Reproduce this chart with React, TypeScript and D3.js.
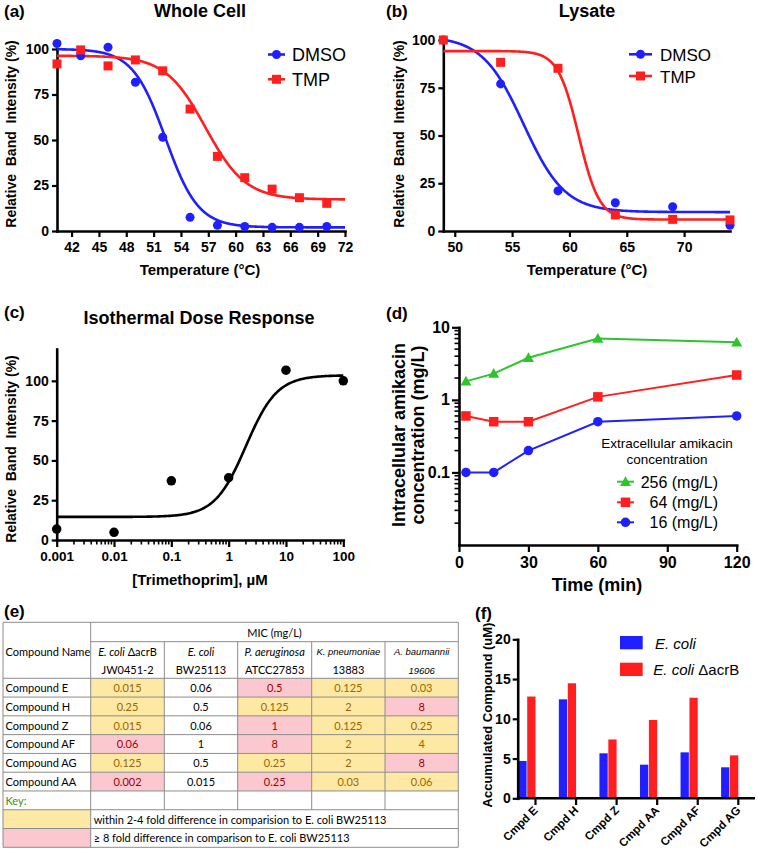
import React, { useEffect, useRef } from "react";
import * as d3 from "d3";

const FONT = "'Liberation Sans', Arial, sans-serif";
const TFONT = "Lato, 'Liberation Sans', sans-serif";
const BLUE = "#1f1fff";
const RED = "#ff1f1f";
const GREEN = "#2cc52c";

// ---------- Panel (a) Whole Cell ----------
const tempsA = [40.4, 43, 46, 49, 52, 55, 58, 61, 64, 67, 70];
const dmsoA = [103, 96.3, 101, 81.7, 51.5, 7.5, 3.1, 2.5, 2, 2, 2.5];
const tmpA = [91.8, 99.5, 90.7, 94, 88, 67, 41, 29.3, 23, 18.3, 15.2];
const xTicksA = [42, 45, 48, 51, 54, 57, 60, 63, 66, 69, 72];
// Boltzmann fit params: [top, bottom, V50, slope]
const fitDmsoA = [100, 2, 52.3, 1.8];
const fitTmpA = [96.3, 17.3, 56.7, 2.2];

// ---------- Panel (b) Lysate ----------
const tempsB = [49, 54, 59, 64, 69, 74];
const dmsoB = [100, 77, 21, 14.8, 12.7, 3];
const tmpB = [100, 88.3, 85.2, 8.4, 6.1, 5.8];
const xTicksB = [50, 55, 60, 65, 70];
const fitDmsoB = [102, 9.9, 56, 1.8];
const fitTmpB = [94.2, 6, 60.8, 0.9];

const yTicksPct = [0, 25, 50, 75, 100];

// ---------- Panel (c) Isothermal dose response ----------
const dosesC = [0.001, 0.01, 0.1, 1, 10, 100];
const respC = [6.9, 4.8, 37.2, 39.1, 106.7, 100];
const xTickLabelsC = ["0.001", "0.01", "0.1", "1", "10", "100"];
// [bottom, top, EC50, hill]
const fitC = [14.5, 103.5, 2.0, 1.6];

// ---------- Panel (d) amikacin ----------
const timesD = [3, 15, 30, 60, 120];
const amk256 = [1.8, 2.3, 3.8, 7.0, 6.2];
const amk64 = [0.6, 0.5, 0.5, 1.1, 2.2];
const amk16 = [0.1, 0.1, 0.2, 0.5, 0.6];
const xTicksD = [0, 30, 60, 90, 120];
const yTicksD = [0.1, 1, 10];
const yTickLabelsD = ["0.1", "1", "10"];
const legendD = ["256 (mg/L)", "64 (mg/L)", "16 (mg/L)"];

// ---------- Panel (e) table ----------
const compoundNames = ["Compound E", "Compound H", "Compound Z", "Compound AF", "Compound AG", "Compound AA"];
const micAcrB = ["0.015", "0.25", "0.015", "0.06", "0.125", "0.002"];
const micBW = ["0.06", "0.5", "0.06", "1", "0.5", "0.015"];
const micPaer = ["0.5", "0.125", "1", "8", "0.25", "0.25"];
const micKpn = ["0.125", "2", "0.125", "2", "2", "0.03"];
const micAbau = ["0.03", "8", "0.25", "4", "8", "0.06"];
const flagAcrB = ["Y", "Y", "Y", "P", "Y", "P"];
const flagBW = ["", "", "", "", "", ""];
const flagPaer = ["P", "Y", "P", "P", "Y", "P"];
const flagKpn = ["Y", "Y", "Y", "Y", "Y", "Y"];
const flagAbau = ["Y", "P", "Y", "Y", "P", "Y"];
const strainLine2 = ["JW0451-2", "BW25113", "ATCC27853", "13883", "19606"];
const keyTexts = [
  "within 2-4 fold difference in comparision to E. coli BW25113",
  "≥ 8 fold difference in comparison to E. coli BW25113",
];

// ---------- Panel (f) accumulation ----------
const compoundsF = ["Cmpd E", "Cmpd H", "Cmpd Z", "Cmpd AA", "Cmpd AF", "Cmpd AG"];
const accEcoli = [4.7, 12.45, 5.66, 4.23, 5.78, 3.9];
const accAcrB = [12.8, 14.47, 7.4, 9.85, 12.65, 5.4];
const yTicksF = [0, 5, 10, 15, 20];

type Sel = d3.Selection<any, any, any, any>;

function txt(g: Sel, x: number, y: number, s: string, size: number, o: any = {}) {
  return g
    .append("text")
    .attr("x", x)
    .attr("y", y)
    .attr("font-family", o.family ?? FONT)
    .attr("font-size", size)
    .attr("font-weight", o.weight ?? "bold")
    .attr("font-style", o.style ?? "normal")
    .attr("text-anchor", o.anchor ?? "start")
    .attr("fill", o.fill ?? "#000")
    .style("white-space", "pre")
    .text(s);
}

function rtxt(g: Sel, x: number, y: number, s: string, size: number, o: any = {}) {
  return g
    .append("text")
    .attr("transform", `translate(${x},${y}) rotate(-90)`)
    .attr("font-family", FONT)
    .attr("font-size", size)
    .attr("font-weight", o.weight ?? "bold")
    .attr("text-anchor", "middle")
    .attr("fill", "#000")
    .style("white-space", "pre")
    .text(s);
}

function styleAxis(g: Sel, size: number) {
  g.attr("font-family", null).attr("font-size", null);
  g.select(".domain").attr("stroke", "#000").attr("stroke-width", 2.6).attr("stroke-linecap", "square");
  g.selectAll(".tick line").attr("stroke", "#000").attr("stroke-width", 2.2);
  g.selectAll(".tick text")
    .attr("font-family", FONT)
    .attr("font-weight", "bold")
    .attr("font-size", size)
    .attr("fill", "#000");
}

function marker(g: Sel, kind: string, cx: number, cy: number, color: string, s: number) {
  if (kind === "circle") g.append("circle").attr("cx", cx).attr("cy", cy).attr("r", s / 2).attr("fill", color);
  else if (kind === "square")
    g.append("rect").attr("x", cx - s / 2).attr("y", cy - s / 2).attr("width", s).attr("height", s).attr("fill", color);
  else
    g.append("path")
      .attr("d", `M${cx},${cy - s * 0.55}L${cx + s * 0.55},${cy + s * 0.42}L${cx - s * 0.55},${cy + s * 0.42}Z`)
      .attr("fill", color);
}

function boltz(p: number[], t: number) {
  return p[1] + (p[0] - p[1]) / (1 + Math.exp((t - p[2]) / p[3]));
}

function tempPanel(svg: Sel, c: any) {
  const g = svg.append("g");
  const x = d3.scaleLinear().domain(c.xDomain).range(c.xRange);
  const y = d3.scaleLinear().domain([0, 100]).range(c.yRange);
  const xa = g
    .append("g")
    .attr("transform", `translate(0,${c.yRange[0]})`)
    .call(d3.axisBottom(x).tickValues(c.xTicks).tickSize(6).tickPadding(5).tickSizeOuter(0).tickFormat(d3.format("d")));
  styleAxis(xa, c.tickSize);
  const ya = g
    .append("g")
    .attr("transform", `translate(${c.xRange[0]},0)`)
    .call(d3.axisLeft(y).tickValues(yTicksPct).tickSize(5).tickPadding(3).tickSizeOuter(0));
  styleAxis(ya, c.tickSize);

  const series = [
    { fit: c.fitD, vals: c.dmso, color: BLUE, kind: "circle", size: 9 },
    { fit: c.fitT, vals: c.tmp, color: RED, kind: "square", size: 9 },
  ];
  series.forEach((s) => {
    const ts = d3.range(c.xDomain[0], c.xDomain[1] + 0.001, 0.05);
    const ln = d3
      .line<number>()
      .x((t) => x(t))
      .y((t) => y(boltz(s.fit, t)));
    g.append("path").attr("d", ln(ts)).attr("fill", "none").attr("stroke", s.color).attr("stroke-width", 2.6);
  });
  series.forEach((s) => {
    c.temps.forEach((t: number, i: number) => marker(g, s.kind, x(t), y(s.vals[i]), s.color, s.size));
  });
  // titles
  txt(g, c.labelX, 17, c.label, 17);
  txt(g, c.titleX, 17, c.title, 18, { anchor: "middle" });
  txt(g, c.titleX, 275, "Temperature (°C)", 15, { anchor: "middle" });
  rtxt(g, c.yTitleX, 134, "Relative  Band  Intensity (%)", 14);
  // legend
  const names = ["DMSO", "TMP"];
  series.forEach((s, i) => {
    const ly = c.legY[i];
    g.append("line")
      .attr("x1", c.legX[0])
      .attr("x2", c.legX[1])
      .attr("y1", ly)
      .attr("y2", ly)
      .attr("stroke", s.color)
      .attr("stroke-width", 2.6);
    marker(g, s.kind, (c.legX[0] + c.legX[1]) / 2, ly, s.color, 9);
    txt(g, c.legX[2], ly + 6.5, names[i], c.legSize, { weight: "normal" });
  });
}

function panelC(svg: Sel) {
  const g = svg.append("g");
  const x = d3.scaleLog().domain([0.001, 100]).range([56.7, 343.3]);
  const y = d3.scaleLinear().domain([0, 120]).range([540, 349]);
  const xa = g
    .append("g")
    .attr("transform", `translate(0,540)`)
    .call(
      d3
        .axisBottom(x)
        .tickValues(dosesC)
        .tickSize(7)
        .tickPadding(4)
        .tickSizeOuter(0)
        .tickFormat((d, i) => xTickLabelsC[i])
    );
  styleAxis(xa, 13.5);
  [0.001, 0.01, 0.1, 1, 10].forEach((dec) => {
    for (let k = 2; k <= 9; k++) {
      g.append("line")
        .attr("x1", x(dec * k))
        .attr("x2", x(dec * k))
        .attr("y1", 540)
        .attr("y2", 544.5)
        .attr("stroke", "#000")
        .attr("stroke-width", 1.6);
    }
  });
  const ya = g
    .append("g")
    .attr("transform", `translate(56.7,0)`)
    .call(d3.axisLeft(y).tickValues(yTicksPct).tickSize(5).tickPadding(3).tickSizeOuter(0));
  styleAxis(ya, 14);
  const ds = d3.range(-3, 2.001, 0.02).map((e) => Math.pow(10, e));
  const ln = d3
    .line<number>()
    .x((d) => x(d))
    .y((d) => y(fitC[0] + (fitC[1] - fitC[0]) / (1 + Math.pow(10, (Math.log10(fitC[2]) - Math.log10(d)) * fitC[3]))));
  g.append("path").attr("d", ln(ds)).attr("fill", "none").attr("stroke", "#000").attr("stroke-width", 2.6);
  dosesC.forEach((d, i) => marker(g, "circle", x(d), y(respC[i]), "#000", 9.5));
  txt(g, 4, 318, "(c)", 17);
  txt(g, 199, 324, "Isothermal Dose Response", 18, { anchor: "middle" });
  txt(g, 200, 585, "[Trimethoprim], µM", 15, { anchor: "middle" });
  rtxt(g, 16, 449, "Relative  Band  Intensity (%)", 14);
}

function panelD(svg: Sel) {
  const g = svg.append("g");
  const x = d3.scaleLinear().domain([0, 120]).range([459, 736.7]);
  const y = d3.scaleLog().domain([0.01, 10]).range([545, 327.3]);
  const xa = g
    .append("g")
    .attr("transform", `translate(0,545)`)
    .call(d3.axisBottom(x).tickValues(xTicksD).tickSize(7).tickPadding(5).tickSizeOuter(0).tickFormat(d3.format("d")));
  styleAxis(xa, 16);
  const ya = g
    .append("g")
    .attr("transform", `translate(459,0)`)
    .call(
      d3
        .axisLeft(y)
        .tickValues(yTicksD)
        .tickSize(7)
        .tickPadding(2)
        .tickSizeOuter(0)
        .tickFormat((d, i) => yTickLabelsD[i])
    );
  styleAxis(ya, 16);
  [0.01, 0.1, 1].forEach((dec) => {
    for (let k = 2; k <= 9; k++) {
      g.append("line")
        .attr("x1", 459)
        .attr("x2", 454.5)
        .attr("y1", y(dec * k))
        .attr("y2", y(dec * k))
        .attr("stroke", "#000")
        .attr("stroke-width", 1.6);
    }
  });
  const series = [
    { vals: amk256, color: GREEN, kind: "tri" },
    { vals: amk64, color: RED, kind: "square" },
    { vals: amk16, color: BLUE, kind: "circle" },
  ];
  const ln = d3
    .line<number>()
    .x((d, i) => x(timesD[i]))
    .y((d) => y(d));
  series.forEach((s) => {
    g.append("path").attr("d", ln(s.vals)).attr("fill", "none").attr("stroke", s.color).attr("stroke-width", 2);
    s.vals.forEach((v, i) => marker(g, s.kind, x(timesD[i]), y(v), s.color, s.kind === "tri" ? 10 : 9.5));
  });
  txt(g, 386, 319, "(d)", 17);
  txt(g, 597, 591, "Time (min)", 18, { anchor: "middle" });
  rtxt(g, 405, 435, "Intracellular amikacin", 18);
  rtxt(g, 424, 435, "concentration (mg/L)", 18);
  txt(g, 667, 448, "Extracellular amikacin", 13.5, { anchor: "middle", weight: "normal" });
  txt(g, 667, 464, "concentration", 13.5, { anchor: "middle", weight: "normal" });
  const legY = [481.7, 502.3, 522.3];
  series.forEach((s, i) => {
    g.append("line")
      .attr("x1", 617)
      .attr("x2", 634)
      .attr("y1", legY[i])
      .attr("y2", legY[i])
      .attr("stroke", s.color)
      .attr("stroke-width", 2);
    marker(g, s.kind, 625.5, legY[i], s.color, s.kind === "tri" ? 10 : 9.5);
    txt(g, 718, legY[i] + 6, legendD[i], 16, { anchor: "end", weight: "normal" });
  });
}

function panelE(svg: Sel) {
  const g = svg.append("g");
  txt(g, 4, 617, "(e)", 17);
  const colX = [3, 90.7, 164.3, 237.7, 311.7, 385, 458.3];
  const top = 622.3;
  const h1 = 641.7;
  const rows = d3.scaleBand<number>().domain(d3.range(9)).range([678.3, 847.3]);
  const rh = rows.bandwidth();
  const FILL: any = { Y: "#fde9a3", P: "#fcc8cf", "": "#ffffff" };
  const TXT: any = { Y: "#9c6500", P: "#9c0006", "": "#000000" };
  const mics = [micAcrB, micBW, micPaer, micKpn, micAbau];
  const flags = [flagAcrB, flagBW, flagPaer, flagKpn, flagAbau];
  g.append("rect").attr("x", colX[0]).attr("y", top).attr("width", colX[6] - colX[0]).attr("height", 847.3 - top).attr("fill", "#fff");
  compoundNames.forEach((name, r) => {
    flags.forEach((fl, c) => {
      g.append("rect")
        .attr("x", colX[c + 1])
        .attr("y", rows(r)!)
        .attr("width", colX[c + 2] - colX[c + 1])
        .attr("height", rh)
        .attr("fill", FILL[fl[r]]);
    });
  });
  g.append("rect").attr("x", colX[0]).attr("y", rows(7)!).attr("width", colX[1] - colX[0]).attr("height", rh).attr("fill", FILL.Y);
  g.append("rect").attr("x", colX[0]).attr("y", rows(8)!).attr("width", colX[1] - colX[0]).attr("height", rh).attr("fill", FILL.P);

  const stroke = "#8c8c8c";
  const hl = (x1: number, x2: number, yy: number) =>
    g.append("line").attr("x1", x1).attr("x2", x2).attr("y1", yy).attr("y2", yy).attr("stroke", stroke).attr("stroke-width", 1);
  const vl = (xx: number, y1: number, y2: number) =>
    g.append("line").attr("x1", xx).attr("x2", xx).attr("y1", y1).attr("y2", y2).attr("stroke", stroke).attr("stroke-width", 1);
  hl(colX[0], colX[6], top);
  hl(colX[1], colX[6], h1);
  for (let r = 0; r <= 9; r++) hl(colX[0], colX[6], r === 9 ? 847.3 : rows(r)!);
  vl(colX[0], top, 847.3);
  vl(colX[1], top, 847.3);
  vl(colX[6], top, 847.3);
  for (let c = 2; c <= 5; c++) vl(colX[c], h1, rows(7)!);

  const T = (x: number, y: number, s: string, o: any = {}) =>
    txt(g, x, y, s, o.size ?? 11, { family: o.family ?? TFONT, weight: "normal", anchor: o.anchor ?? "start", fill: o.fill, style: o.style });
  T(5.5, 656, "Compound Name");
  T((colX[1] + colX[6]) / 2, 636.5, "MIC (mg/L)", { anchor: "middle" });
  const cx = (c: number) => (colX[c + 1] + colX[c + 2]) / 2;
  // species line 1
  const t0 = T(cx(0), 656, "", { anchor: "middle" });
  t0.append("tspan").attr("font-style", "italic").text("E. coli");
  t0.append("tspan").text(" ΔacrB");
  T(cx(1), 656, "E. coli", { anchor: "middle", style: "italic" });
  T(cx(2), 656, "P. aeruginosa", { anchor: "middle", style: "italic" });
  T(cx(3), 655, "K. pneumoniae", { anchor: "middle", style: "italic", size: 9.5, family: FONT });
  T(cx(4), 655, "A. baumannii", { anchor: "middle", style: "italic", size: 9.5, family: FONT });
  strainLine2.forEach((s, c) => {
    if (c === 4) T(cx(c), 673.5, s, { anchor: "middle", style: "italic", size: 9.5, family: FONT });
    else T(cx(c), 673.5, s, { anchor: "middle" });
  });
  compoundNames.forEach((name, r) => {
    const by = rows(r)! + 13.8;
    T(5.5, by, name);
    mics.forEach((m, c) => T(cx(c), by, m[r], { anchor: "middle", fill: TXT[flags[c][r]] }));
  });
  T(5.5, rows(6)! + 13.8, "Key:", { fill: "#3f8a2f" });
  T(colX[1] + 3, rows(7)! + 13.8, keyTexts[0]);
  T(colX[1] + 3, rows(8)! + 13.8, keyTexts[1]);
}

function panelF(svg: Sel) {
  const g = svg.append("g");
  const y = d3.scaleLinear().domain([0, 20]).range([798.3, 639.3]);
  const xp = d3.scalePoint<string>().domain(compoundsF).range([535.5, 738.3]);
  const inner = d3.scaleBand<string>().domain(["ecoli", "acrB"]).range([-17.2, 0]).paddingInner(0.07);
  compoundsF.forEach((c, i) => {
    [
      ["ecoli", accEcoli[i], BLUE],
      ["acrB", accAcrB[i], RED],
    ].forEach(([k, v, col]: any) => {
      g.append("rect")
        .attr("x", xp(c)! + inner(k)!)
        .attr("y", y(v))
        .attr("width", inner.bandwidth())
        .attr("height", y(0) - y(v))
        .attr("fill", col);
    });
  });
  const ya = g
    .append("g")
    .attr("transform", `translate(517.7,0)`)
    .call(d3.axisLeft(y).tickValues(yTicksF).tickSize(5).tickPadding(2).tickSizeOuter(0));
  styleAxis(ya, 14);
  g.append("line").attr("x1", 517.7).attr("x2", 755).attr("y1", 798.3).attr("y2", 798.3).attr("stroke", "#000").attr("stroke-width", 2.6);
  compoundsF.forEach((c) => {
    g.append("line").attr("x1", xp(c)!).attr("x2", xp(c)!).attr("y1", 798.3).attr("y2", 805).attr("stroke", "#000").attr("stroke-width", 2.2);
    g.append("text")
      .attr("transform", `translate(${xp(c)! + 3},${811}) rotate(-45)`)
      .attr("text-anchor", "end")
      .attr("font-family", FONT)
      .attr("font-weight", "bold")
      .attr("font-size", 11.5)
      .text(c);
  });
  txt(g, 475, 619, "(f)", 17);
  rtxt(g, 491.5, 715, "Accumulated Compound (uM)", 13);
  g.append("rect").attr("x", 620).attr("y", 636).attr("width", 22.7).attr("height", 13.3).attr("fill", BLUE);
  g.append("rect").attr("x", 620).attr("y", 662.7).attr("width", 22.7).attr("height", 13.3).attr("fill", RED);
  txt(g, 655, 648.5, "E. coli", 15, { weight: "normal", style: "italic" });
  const t = txt(g, 653.3, 675, "", 15, { weight: "normal" });
  t.append("tspan").attr("font-style", "italic").text("E. coli");
  t.append("tspan").text(" ΔacrB");
}

export default function App() {
  const ref = useRef<SVGSVGElement>(null);
  useEffect(() => {
    const svg = d3.select(ref.current);
    svg.selectAll("*").remove();
    tempPanel(svg, {
      xDomain: [40.4, 72],
      xRange: [57, 345],
      yRange: [231, 49],
      xTicks: xTicksA,
      temps: tempsA,
      dmso: dmsoA,
      tmp: tmpA,
      fitD: fitDmsoA,
      fitT: fitTmpA,
      label: "(a)",
      labelX: 4,
      title: "Whole Cell",
      titleX: 200,
      yTitleX: 16,
      legX: [268, 285, 292],
      legY: [54.5, 79.3],
      legSize: 18,
      tickSize: 14,
    });
    tempPanel(svg, {
      xDomain: [49, 74],
      xRange: [443.3, 730],
      yRange: [231, 40],
      xTicks: xTicksB,
      temps: tempsB,
      dmso: dmsoB,
      tmp: tmpB,
      fitD: fitDmsoB,
      fitT: fitTmpB,
      label: "(b)",
      labelX: 386,
      title: "Lysate",
      titleX: 587,
      yTitleX: 404,
      legX: [629, 652, 660],
      legY: [54.3, 76],
      legSize: 17,
      tickSize: 14,
    });
    panelC(svg);
    panelD(svg);
    panelE(svg);
    panelF(svg);
  }, []);
  return (
    <svg
      ref={ref}
      width={758}
      height={852}
      style={{ position: "absolute", left: 0, top: 0, background: "#fff" }}
    />
  );
}
